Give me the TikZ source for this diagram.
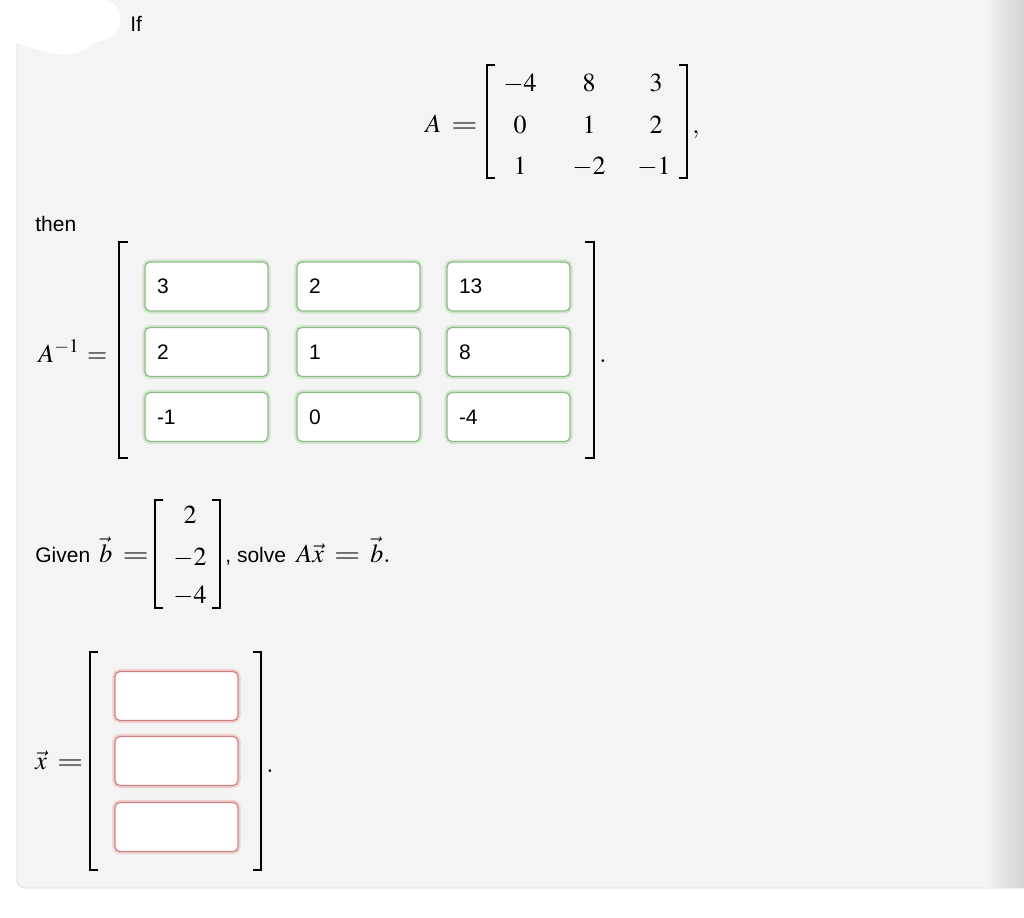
\documentclass[tikz,border=0pt]{standalone}
\usepackage{mathptmx}
\usepackage{graphicx}
\usepackage[no-math]{fontspec}
\setmainfont{Liberation Sans}
\usetikzlibrary{positioning}
\definecolor{panel}{HTML}{F4F4F4}
\definecolor{rim}{HTML}{DCDCDC}
\definecolor{okgreen}{HTML}{8CBC86}
\definecolor{glowgreen}{HTML}{D2E6CE}
\definecolor{badred}{HTML}{CF8484}
\definecolor{glowred}{HTML}{EFCFCF}
\newcommand{\Eq}{\mathrel{\scalebox{1.3}[1]{$=$}}}
\thickmuskip=7mu plus 2mu

\begin{document}
\begin{tikzpicture}[x=0.5pt,y=-0.5pt]
\tikzset{txt/.style = {inner sep=0pt, font=\fontsize{10.5}{12}\selectfont}}
\tikzset{mth/.style = {inner sep=0pt, font=\fontsize{13}{15}\selectfont}}
\tikzset{brak/.style = {line width=1.1pt}}
\tikzset{thinbrak/.style = {line width=0.8pt}}
\tikzset{answer/.style = {draw=okgreen, line width=0.6pt, fill=white, rounded corners=2.5pt,
  minimum height=24.5pt, text width=49.5pt, inner xsep=6pt, align=left,
  font=\fontsize{10.5}{12}\selectfont, preaction={draw=glowgreen, line width=2.6pt}}}
\tikzset{blank/.style = {draw=badred, line width=0.6pt, fill=white, rounded corners=2.5pt,
  minimum height=24.5pt, text width=49.5pt, inner xsep=6pt, align=left,
  preaction={draw=glowred, line width=2.6pt}}}
\useasboundingbox (0,0) rectangle (1024,917);
\clip (0,0) rectangle (1024,917);
% page and panel
\fill[white] (0,0) rectangle (1024,917);
\draw[rim, fill=panel, rounded corners=4] (1040,-20) -- (17,-20) -- (17,888) -- (1040,888);
\shade[left color=panel, right color=black!17] (985,0) rectangle (1024,887.5);
\fill[white] (0,0) -- (0,38) .. controls (30,48) and (60,58) .. (78,53)
  .. controls (88,49) and (92,43) .. (100,41) .. controls (115,38) and (122,30) .. (120,15)
  .. controls (118,5) and (112,0) .. (105,0) -- cycle;
% given matrix
\node[txt, anchor=base west] (if) at (130,31) {If};
\node[mth, anchor=base east] (aeq) at (478,132) {$A\Eq$};
\draw[thinbrak] (495,65) -- (487,65) -- (487,178) -- (495,178);
\draw[thinbrak] (679,65) -- (687,65) -- (687,178) -- (679,178);
\node[mth, anchor=base] (a11) at (520,91) {$-4$};
\node[mth, anchor=base] (a12) at (589,91) {$8$};
\node[mth, anchor=base] (a13) at (656,91) {$3$};
\node[mth, anchor=base] (a21) at (520,133) {$0$};
\node[mth, anchor=base] (a22) at (589,133) {$1$};
\node[mth, anchor=base] (a23) at (656,133) {$2$};
\node[mth, anchor=base] (a31) at (520,174) {$1$};
\node[mth, anchor=base] (a32) at (589,174) {$-2$};
\node[mth, anchor=base] (a33) at (654,174) {$-1$};
\node[mth, anchor=base west] (acomma) at (692,133) {$,$};
% inverse
\node[txt, anchor=base west] (then) at (35,231) {then};
\node[mth, anchor=base west] (ainv) at (38,362) {$A^{-1}\!=$};
\draw[brak] (128,242) -- (119,242) -- (119,458) -- (128,458);
\draw[brak] (585,242) -- (594,242) -- (594,458) -- (585,458);
\node[answer] (i11) at (206.5,286.5) {3};
\node[answer] (i12) at (358.5,286.5) {2};
\node[answer] (i13) at (508.5,286.5) {13};
\node[answer] (i21) at (206.5,352) {2};
\node[answer] (i22) at (358.5,352) {1};
\node[answer] (i23) at (508.5,352) {8};
\node[answer] (i31) at (206.5,417) {-1};
\node[answer] (i32) at (358.5,417) {0};
\node[answer] (i33) at (508.5,417) {-4};
\node[mth, anchor=base west] (idot) at (599,362) {$.$};
% right-hand side
\node[txt, anchor=base west] (given) at (35,562) {Given};
\node[mth, anchor=base west] (beq) at (99,562) {$\vec{b}\Eq$};
\draw[thinbrak] (163,500) -- (155,500) -- (155,608) -- (163,608);
\draw[thinbrak] (212,500) -- (220,500) -- (220,608) -- (212,608);
\node[mth, anchor=base] (b1) at (190,523) {$2$};
\node[mth, anchor=base] (b2) at (190,565) {$-2$};
\node[mth, anchor=base] (b3) at (190,603) {$-4$};
\node[txt, anchor=base west] (solve) at (225,562) {, solve};
\node[mth, anchor=base west] (axb) at (296,562) {$A\vec{x}\Eq\vec{b}.$};
% unknown vector
\node[mth, anchor=base west] (xeq) at (35,769) {$\vec{x}\Eq$};
\draw[brak] (98,652) -- (90,652) -- (90,870) -- (98,870);
\draw[brak] (253,652) -- (261,652) -- (261,870) -- (253,870);
\node[blank] (x1) at (176.5,696) {};
\node[blank] (x2) at (176.5,761) {};
\node[blank] (x3) at (176.5,827) {};
\node[mth, anchor=base west] (xdot) at (266,772) {$.$};
\end{tikzpicture}
\end{document}
